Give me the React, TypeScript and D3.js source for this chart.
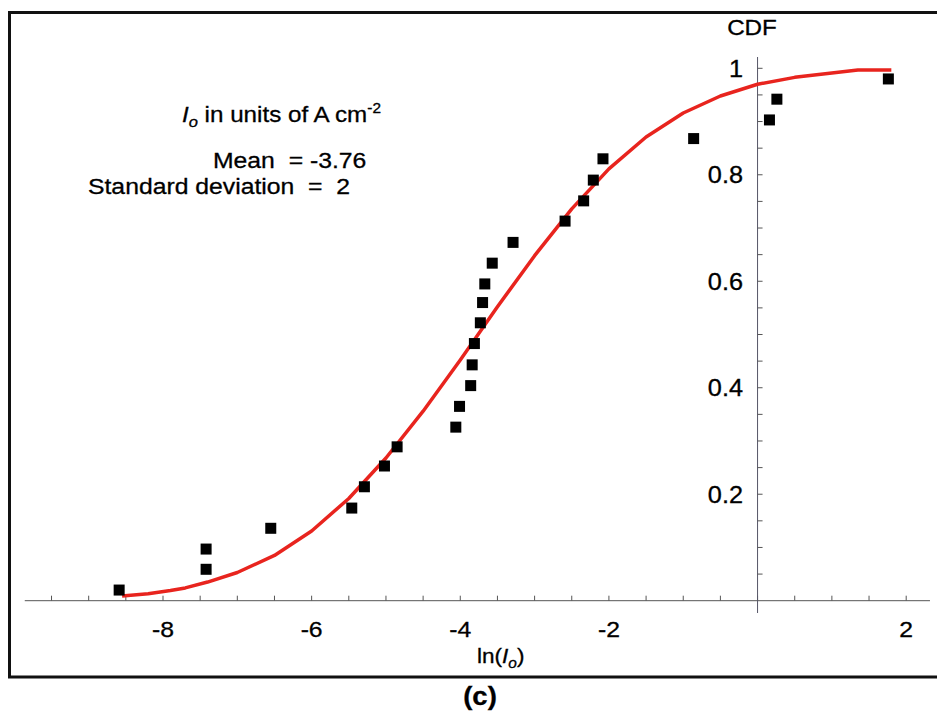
import React from "react";
import * as d3 from "d3";

// Observed data points (ln(Io), CDF)
const pointX = [-8.59, -7.42, -7.42, -6.55, -5.46, -5.29, -5.02, -4.85, -4.06, -4.01, -3.86, -3.84, -3.81, -3.73, -3.70, -3.67, -3.57, -3.29, -2.59, -2.34, -2.21, -2.08, -0.86, 0.16, 0.26, 1.76];
const pointY = [0.020, 0.097, 0.059, 0.136, 0.174, 0.214, 0.253, 0.289, 0.326, 0.365, 0.404, 0.443, 0.483, 0.522, 0.560, 0.595, 0.634, 0.673, 0.713, 0.751, 0.790, 0.830, 0.868, 0.903, 0.942, 0.980];

// Fitted normal CDF curve
const curveX = [-8.55, -8.2, -7.9, -7.7, -7.4, -7.0, -6.5, -6.0, -5.5, -5.0, -4.5, -4.0, -3.5, -3.0, -2.5, -2.0, -1.5, -1.0, -0.5, 0.0, 0.5, 1.0, 1.35, 1.8];
const curveY = [0.009, 0.013, 0.019, 0.024, 0.035, 0.053, 0.085, 0.131, 0.192, 0.268, 0.356, 0.452, 0.552, 0.648, 0.736, 0.811, 0.871, 0.916, 0.948, 0.970, 0.983, 0.991, 0.997, 0.997];

const xTickLabels = [-8, -6, -4, -2, 2];
const yTickLabels = [0.2, 0.4, 0.6, 0.8, 1];

const W = 937;
const H = 713;
const FONT = "'Liberation Sans', Arial, Helvetica, sans-serif";
const SX = 1.1; // horizontal stretch of text in the original

function T({ x, y, anchor = "start", size = 21, weight = "normal", children }: any) {
  return (
    <text
      transform={`translate(${x},${y}) scale(${SX},1)`}
      textAnchor={anchor}
      fontSize={size}
      fontWeight={weight}
      fontFamily={FONT}
      fill="#000"
      stroke="#000"
      strokeWidth={0.3}
      style={{ whiteSpace: "pre" }}
    >
      {children}
    </text>
  );
}

export default function App() {
  const x = d3.scaleLinear().domain([-8, 2]).range([163, 906.2]);
  const y = d3.scaleLinear().domain([0, 1]).range([600.7, 68.3]);

  const xMinor = d3.range(-9.5, 2.01, 0.5);
  const yMinor = d3.range(0.05, 1.001, 0.05);

  const line = d3
    .line<number>()
    .x((_, i) => x(curveX[i]))
    .y((d) => y(d))
    .curve(d3.curveLinear);

  const x0 = x(0);
  const y0 = y(0);

  return (
    <svg
      width={W}
      height={H}
      style={{ position: "absolute", left: 0, top: 0, display: "block", background: "#fff" }}
    >
      <rect x={0} y={0} width={W} height={H} fill="#fff" />
      {/* frame (top, left, bottom) */}
      <path d={`M ${W} 12.5 H 9.5 V 677 H ${W}`} fill="none" stroke="#111" strokeWidth={3} />

      {/* x axis */}
      <line x1={x(-9.86)} x2={x(2.32)} y1={y0} y2={y0} stroke="#555" strokeWidth={1} />
      {xMinor.map((v) => (
        <line key={"xt" + v} x1={x(v)} x2={x(v)} y1={y0} y2={y0 - 5} stroke="#555" strokeWidth={1} />
      ))}
      {xTickLabels.map((v) => (
        <T key={"xl" + v} x={x(v)} y={636.5} anchor="middle" size={22.5}>
          {v < 0 ? "-" + Math.abs(v) : String(v)}
        </T>
      ))}

      {/* y axis */}
      <line x1={x0} x2={x0} y1={57} y2={613} stroke="#556" strokeWidth={1} />
      {yMinor.map((v) => (
        <line key={"yt" + v} x1={x0} x2={x0 + 5} y1={y(v)} y2={y(v)} stroke="#555" strokeWidth={1} />
      ))}
      {yTickLabels.map((v) => (
        <T key={"yl" + v} x={743} y={y(v) + 8.5} anchor="end" size={23}>
          {String(v)}
        </T>
      ))}

      {/* axis labels */}
      <T x={752} y={35} anchor="middle" size={22}>CDF</T>
      <T x={477} y={663} size={20.5}>
        <tspan>ln(</tspan>
        <tspan fontStyle="italic">I</tspan>
        <tspan fontStyle="italic" fontSize={14} dy={5}>o</tspan>
        <tspan dy={-5}>)</tspan>
      </T>
      <T x={480} y={705} anchor="middle" size={25} weight="bold">(c)</T>

      {/* annotation */}
      <T x={182} y={122} size={22}>
        <tspan fontStyle="italic">I</tspan>
        <tspan fontStyle="italic" fontSize={15} dy={5}>o</tspan>
        <tspan dy={-5}> in units of A cm</tspan>
        <tspan fontSize={14} dy={-9}>-2</tspan>
      </T>
      <T x={213} y={168} size={22.5}>{"Mean  = -3.76"}</T>
      <T x={88} y={194} size={22.5}>{"Standard deviation  =  2"}</T>

      {/* fitted curve */}
      <path d={line(curveY) || ""} fill="none" stroke="#e8241e" strokeWidth={3.5} strokeLinejoin="round" />

      {/* data points */}
      {pointX.map((px, i) => (
        <rect key={"p" + i} x={x(px) - 5.5} y={y(pointY[i]) - 5.5} width={11} height={11} fill="#000" />
      ))}
    </svg>
  );
}
